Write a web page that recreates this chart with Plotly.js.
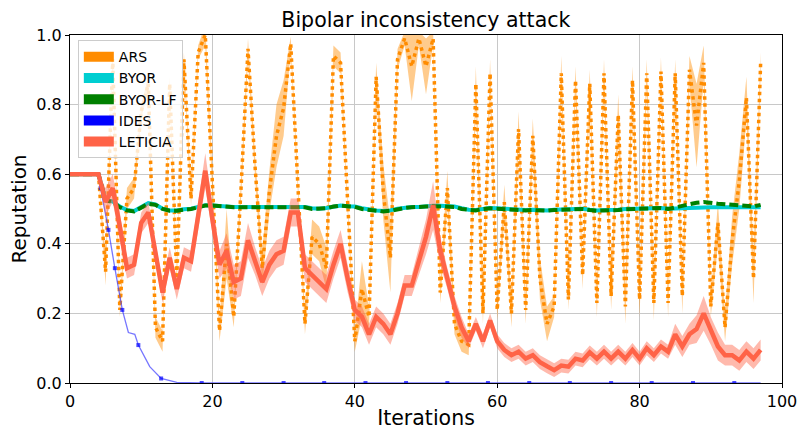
<!DOCTYPE html>
<html><head><meta charset="utf-8">
<script src="https://cdn.plot.ly/plotly-3.0.1.min.js"></script>
<style>html,body{margin:0;padding:0;background:#fff}#chart{width:802px;height:430px}</style>
</head><body><div id="chart"></div>
<script>
// ---- data ----
const seriesNames = ["ARS", "BYOR", "BYOR-LF", "IDES", "LETICIA"];
const xTicks = [0, 20, 40, 60, 80, 100];
const yTicks = [0, 0.2, 0.4, 0.6, 0.8, 1.0];

const ars = [0.6,0.6,0.6,0.6,0.6,0.32,0.93,0.21,0.53,0.56,
  0.78,0.86,0.16,0.12,0.86,0.30,0.93,0.53,0.95,1.0,
  0.58,0.15,0.40,0.19,0.55,0.96,0.62,0.33,0.55,0.71,
  0.79,0.975,0.57,0.17,0.42,0.40,0.33,0.94,0.92,0.50,
  0.12,0.27,0.19,0.88,0.55,0.36,0.93,0.99,0.91,0.99,
  0.91,0.99,0.26,0.56,0.17,0.12,0.11,0.86,0.20,0.89,
  0.21,0.52,0.20,0.73,0.21,0.71,0.30,0.17,0.22,0.89,
  0.24,0.87,0.31,0.86,0.23,0.89,0.25,0.77,0.22,0.87,
  0.24,0.89,0.23,0.895,0.23,0.89,0.25,0.90,0.74,0.92,
  0.22,0.46,0.16,0.41,0.58,0.82,0.30,0.92];
const arsSpread = [0,0,0,0,0,0.04,0.03,0.02,0.03,0.03,
  0.02,0.02,0.03,0.03,0.02,0.02,0.02,0.02,0.02,0.03,
  0.02,0.03,0.10,0.03,0.03,0.03,0.03,0.05,0.06,0.09,
  0.08,0.02,0.02,0.03,0.05,0.05,0.06,0.03,0.03,0.02,
  0.03,0.08,0.03,0.04,0.08,0.10,0.03,0.02,0.10,0.02,
  0.08,0.02,0.03,0.05,0.03,0.03,0.03,0.05,0.03,0.04,
  0.03,0.05,0.04,0.05,0.04,0.05,0.06,0.05,0.03,0.05,
  0.03,0.04,0.04,0.04,0.04,0.04,0.04,0.06,0.05,0.04,
  0.05,0.04,0.05,0.04,0.04,0.04,0.05,0.04,0.12,0.05,
  0.03,0.06,0.04,0.07,0.08,0.06,0.07,0.03];

const byor = [0.6,0.6,0.6,0.6,0.6,0.525,0.522,0.507,0.497,0.494,
  0.506,0.517,0.513,0.501,0.496,0.496,0.499,0.501,0.506,0.511,
  0.51,0.508,0.507,0.506,0.506,0.506,0.507,0.507,0.506,0.506,
  0.507,0.508,0.508,0.506,0.502,0.501,0.503,0.507,0.51,0.508,
  0.507,0.502,0.498,0.496,0.494,0.496,0.501,0.504,0.506,0.506,
  0.508,0.509,0.509,0.508,0.507,0.502,0.498,0.497,0.501,0.503,
  0.502,0.501,0.499,0.497,0.497,0.498,0.497,0.496,0.498,0.499,
  0.501,0.501,0.501,0.498,0.496,0.497,0.497,0.498,0.5,0.501,
  0.502,0.503,0.502,0.503,0.501,0.502,0.503,0.504,0.505,0.506,
  0.505,0.505,0.505,0.504,0.503,0.504,0.504,0.505];
const byorLf = [0.6,0.6,0.6,0.6,0.6,0.525,0.52,0.505,0.496,0.493,
  0.505,0.515,0.512,0.5,0.495,0.495,0.498,0.5,0.505,0.51,
  0.51,0.508,0.507,0.505,0.505,0.505,0.506,0.506,0.505,0.505,
  0.506,0.507,0.507,0.505,0.5,0.5,0.502,0.507,0.51,0.508,
  0.506,0.5,0.497,0.495,0.493,0.495,0.5,0.503,0.505,0.505,
  0.507,0.508,0.508,0.507,0.506,0.5,0.497,0.496,0.5,0.502,
  0.501,0.5,0.498,0.496,0.496,0.497,0.496,0.495,0.497,0.498,
  0.5,0.5,0.5,0.497,0.495,0.496,0.496,0.497,0.499,0.5,
  0.502,0.503,0.502,0.503,0.5,0.505,0.51,0.513,0.518,0.52,
  0.517,0.515,0.514,0.512,0.51,0.508,0.507,0.512];

const idesX = [0,1,2,3,4,4.3,5.4,6.3,7.35,8.2,9.1,9.6,11.2,12.8,15,18.5,
  24.2,30,35.7,41.5,47.2,53,58.7,64.5,70.2,76,81.7,87.5,93.3,97];
const idesY = [0.6,0.6,0.6,0.6,0.6,0.56,0.44,0.33,0.21,0.145,0.14,0.109,0.047,0.013,0.002,0,
  0,0,0,0,0,0,0,0,0,0,0,0,0,0];
const idesMarked = [0,0,0,0,0,1,1,1,1,0,0,1,0,1,0,1,
  1,1,1,1,1,1,1,1,1,1,1,1,1,0];

const leticia = [0.6,0.6,0.6,0.6,0.6,0.52,0.56,0.45,0.33,0.34,
  0.46,0.49,0.38,0.26,0.36,0.27,0.36,0.35,0.48,0.61,
  0.47,0.34,0.38,0.29,0.30,0.41,0.35,0.29,0.34,0.37,
  0.38,0.49,0.49,0.33,0.31,0.29,0.27,0.34,0.40,0.30,
  0.21,0.19,0.14,0.19,0.17,0.14,0.20,0.28,0.28,0.35,
  0.42,0.51,0.38,0.30,0.22,0.16,0.12,0.17,0.12,0.18,
  0.12,0.095,0.08,0.09,0.07,0.08,0.06,0.048,0.037,0.05,
  0.047,0.07,0.065,0.088,0.07,0.09,0.07,0.09,0.07,0.095,
  0.07,0.10,0.08,0.105,0.09,0.14,0.105,0.14,0.155,0.20,
  0.15,0.105,0.08,0.08,0.065,0.09,0.07,0.095];
const leticiaSpread = [0,0,0,0,0,0.04,0.04,0.04,0.03,0.03,
  0.03,0.03,0.03,0.03,0.03,0.03,0.03,0.03,0.04,0.05,
  0.04,0.04,0.05,0.05,0.05,0.05,0.04,0.04,0.04,0.04,
  0.04,0.04,0.04,0.04,0.04,0.04,0.04,0.04,0.04,0.04,
  0.03,0.03,0.03,0.03,0.03,0.03,0.03,0.03,0.03,0.04,
  0.05,0.07,0.04,0.03,0.03,0.03,0.02,0.02,0.02,0.02,
  0.02,0.02,0.02,0.02,0.02,0.02,0.02,0.02,0.02,0.02,
  0.02,0.02,0.02,0.02,0.02,0.02,0.02,0.02,0.02,0.02,
  0.02,0.02,0.02,0.02,0.02,0.03,0.03,0.03,0.04,0.05,
  0.04,0.04,0.03,0.03,0.03,0.03,0.03,0.03];

// ---- build ----
const iters = ars.map((_, i) => i);
const C = {ars:'#ff8c00', byor:'#00ced1', lf:'#008000', ides:'#0000ff', let:'#ff6347'};
const traces = [];
function band(y, s, color) {
  traces.push({x: iters, y: y.map((v,i)=>v+s[i]), mode:'lines', line:{width:0}, showlegend:false, hoverinfo:'skip'});
  traces.push({x: iters, y: y.map((v,i)=>v-s[i]), mode:'lines', line:{width:0}, fill:'tonexty', fillcolor:color, showlegend:false, hoverinfo:'skip'});
}
band(ars, arsSpread, 'rgba(255,140,0,0.45)');
traces.push({x: iters, y: ars, mode:'lines', line:{color:C.ars, width:3.5, dash:'dot'}, showlegend:false});
traces.push({x: iters, y: byor, mode:'lines', line:{color:C.byor, width:4}, showlegend:false});
traces.push({x: iters, y: byorLf, mode:'lines', line:{color:C.lf, width:4, dash:'9px,4px'}, showlegend:false});
traces.push({x: idesX, y: idesY, mode:'lines+markers', line:{color:'rgba(60,60,255,0.7)', width:1.3},
  marker:{symbol:'square', color:C.ides, size: idesMarked.map(m => m ? 4 : 0), line:{width:0}}, showlegend:false});
band(leticia, leticiaSpread, 'rgba(255,99,71,0.45)');
traces.push({x: iters, y: leticia, mode:'lines', line:{color:C.let, width:4.5}, showlegend:false});

// legend patches (thick line swatches, no data drawn)
const legendColors = [C.ars, C.byor, C.lf, C.ides, C.let];
seriesNames.forEach((n, k) => {
  traces.push({x:[null], y:[null], name:n, mode:'lines', line:{color:legendColors[k], width:10}, showlegend:true});
});

const font = 'DejaVu Sans, sans-serif';
const layout = {
  width: 802, height: 430,
  margin: {l:70, r:20, t:35, b:47},
  paper_bgcolor:'#fff', plot_bgcolor:'#fff',
  font: {family: font, color:'#000'},
  title: {text:'Bipolar inconsistency attack', font:{size:20.5, family:font, color:'#000'}, x:0.531, xanchor:'center', y:0.955, yanchor:'middle'},
  xaxis: {range:[0,100], tickvals:xTicks, ticks:'outside', ticklen:4, tickcolor:'#000',
    showline:true, mirror:true, linecolor:'#000', linewidth:1,
    showgrid:true, gridcolor:'#c8c8c8', gridwidth:1, zeroline:false,
    tickfont:{size:16, family:font}, title:{text:'Iterations', font:{size:20.5, family:font}, standoff:7}},
  yaxis: {range:[0,1], tickvals:yTicks, tickformat:'.1f', ticks:'outside', ticklen:4, tickcolor:'#000',
    showline:true, mirror:true, linecolor:'#000', linewidth:1,
    showgrid:true, gridcolor:'#c8c8c8', gridwidth:1, zeroline:false,
    tickfont:{size:16, family:font}, title:{text:'Reputation', font:{size:20, family:font}, standoff:4}},
  legend: {x:0.011, y:0.985, xanchor:'left', yanchor:'top', bgcolor:'rgba(255,255,255,0.8)',
    bordercolor:'#cccccc', borderwidth:1, font:{size:14, family:font}, tracegroupgap:0, itemwidth:30,
    traceorder:'normal'},
  showlegend: true
};
Plotly.newPlot('chart', traces, layout, {displayModeBar:false, staticPlot:true});
</script>
</body></html>
